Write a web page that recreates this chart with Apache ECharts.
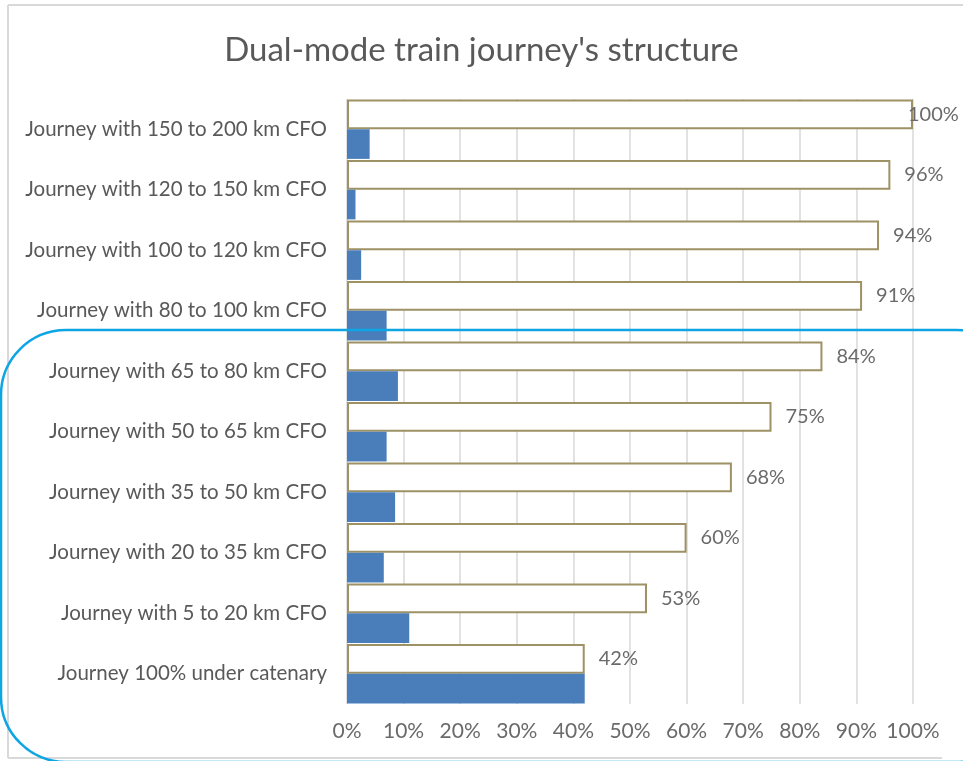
<!DOCTYPE html>
<html>
<head>
<meta charset="utf-8">
<script src="https://cdn.jsdelivr.net/npm/echarts@6/dist/echarts.min.js"></script>
<style>
html,body{margin:0;padding:0;background:#fff;}
#chart{width:963px;height:761px;}
</style>
</head>
<body>
<div id="chart"></div>
<script>
const categories = [
  'Journey with 150 to 200 km CFO',
  'Journey with 120 to 150 km CFO',
  'Journey with 100 to 120 km CFO',
  'Journey with 80 to 100 km CFO',
  'Journey with 65 to 80 km CFO',
  'Journey with 50 to 65 km CFO',
  'Journey with 35 to 50 km CFO',
  'Journey with 20 to 35 km CFO',
  'Journey with 5 to 20 km CFO',
  'Journey 100% under catenary'
];
const cumulativeShare = [100, 96, 94, 91, 84, 75, 68, 60, 53, 42];
const bandShare = [4, 1.5, 2.5, 7, 9, 7, 8.5, 6.5, 11, 42];
const xTicks = [0, 10, 20, 30, 40, 50, 60, 70, 80, 90, 100];

const FONT = 'Lato';
const chart = echarts.init(document.getElementById('chart'), null, {renderer: 'canvas'});
chart.setOption({
  animation: false,
  backgroundColor: '#ffffff',
  title: {
    text: "Dual-mode train journey's structure",
    left: 'center',
    top: 29,
    textStyle: {fontFamily: FONT, fontSize: 33, fontWeight: 'normal', color: '#595959'}
  },
  grid: {left: 347, right: 50, top: 99, bottom: 57, containLabel: false},
  xAxis: {
    type: 'value',
    min: xTicks[0],
    max: xTicks[xTicks.length - 1],
    interval: 10,
    axisLine: {show: false},
    axisTick: {show: false},
    axisLabel: {formatter: '{value}%', fontFamily: FONT, fontSize: 21, color: '#6a6a6a', margin: 17},
    splitLine: {show: true, lineStyle: {color: '#d9d9d9', width: 1.5}}
  },
  yAxis: {
    type: 'category',
    data: categories,
    inverse: true,
    axisLine: {show: false},
    axisTick: {show: false},
    axisLabel: {fontFamily: FONT, fontSize: 20.5, color: '#595959', margin: 20}
  },
  series: [
    {
      type: 'bar',
      data: cumulativeShare.map((v, i) => i === 0 ? {value: v, label: {offset: [-19, 0]}} : v),
      barGap: '0%',
      barCategoryGap: '2%',
      itemStyle: {color: '#ffffff', borderColor: '#9d9165', borderWidth: 2},
      label: {show: true, position: 'right', distance: 14, formatter: '{c}%', fontFamily: FONT, fontSize: 20, color: '#6a6a6a'}
    },
    {
      type: 'bar',
      data: bandShare,
      barGap: '0%',
      barCategoryGap: '2%',
      itemStyle: {color: '#4a7ebb'}
    }
  ],
  graphic: [
    {type: 'line', shape: {x1: 8, y1: 5, x2: 963, y2: 5}, style: {stroke: '#d9d9d9', lineWidth: 2}, z: 50},
    {type: 'line', shape: {x1: 8, y1: 5, x2: 8, y2: 758}, style: {stroke: '#d9d9d9', lineWidth: 2}, z: 50},
    {type: 'line', shape: {x1: 8, y1: 758, x2: 942, y2: 758}, style: {stroke: '#d9d9d9', lineWidth: 2}, z: 50},
    {type: 'rect', shape: {x: 1, y: 330, width: 1020, height: 432, r: 65},
     style: {fill: 'none', stroke: '#0ea5e4', lineWidth: 2.5}, z: 100}
  ]
});
</script>
</body>
</html>
